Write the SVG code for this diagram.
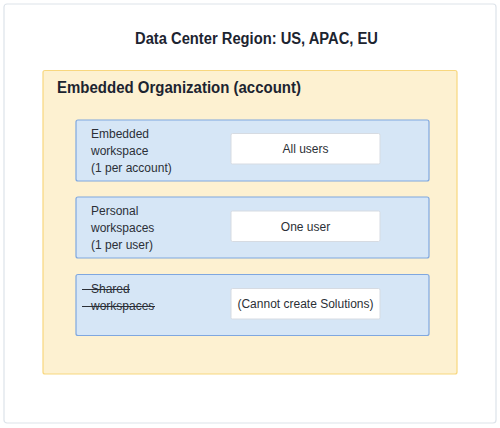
<svg xmlns="http://www.w3.org/2000/svg" width="500" height="428" viewBox="0 0 500 428">
<style>
.title{font-family:"Liberation Sans",Arial,sans-serif;font-weight:bold;font-size:16px;fill:#1c2430}
.lbl{font-family:"Liberation Sans",Arial,sans-serif;font-size:12px;fill:#2b2f36}
.ctr{text-anchor:middle}
.blue{fill:#d6e6f6;stroke:#7fa7df;stroke-width:1.2}
.white{fill:#ffffff;stroke:#d6dbe2;stroke-width:1}
.strike{stroke:#2b2f36;stroke-width:1}
</style>
<g id="frame">
<rect x="4" y="4" width="492" height="419" rx="3" fill="#ffffff" stroke="#dde3ea" stroke-width="1.2"/>
<text class="title" x="135" y="44" textLength="243" lengthAdjust="spacingAndGlyphs">Data Center Region: US, APAC, EU</text>
</g>
<g id="organization">
<rect x="43" y="70.5" width="414" height="303.5" rx="2" fill="#fdf1d1" stroke="#f8d77e" stroke-width="1.2"/>
<text class="title" x="57" y="93" textLength="244" lengthAdjust="spacingAndGlyphs">Embedded Organization (account)</text>
</g>
<g id="embedded-workspace">
<rect class="blue" x="76" y="120" width="353" height="61" rx="2"/>
<text class="lbl" x="91" y="138">Embedded</text>
<text class="lbl" x="91" y="155">workspace</text>
<text class="lbl" x="91" y="172">(1 per account)</text>
<rect class="white" x="231" y="133.5" width="149" height="30.5" rx="1.5"/>
<text class="lbl ctr" x="305.5" y="153">All users</text>
</g>
<g id="personal-workspaces">
<rect class="blue" x="76" y="197" width="353" height="61" rx="2"/>
<text class="lbl" x="91" y="215">Personal</text>
<text class="lbl" x="91" y="232">workspaces</text>
<text class="lbl" x="91" y="249">(1 per user)</text>
<rect class="white" x="231" y="211" width="149" height="30.5" rx="1.5"/>
<text class="lbl ctr" x="305.5" y="230.5">One user</text>
</g>
<g id="shared-workspaces">
<rect class="blue" x="76" y="274.5" width="353" height="61" rx="2"/>
<text class="lbl" x="91" y="293">Shared</text>
<text class="lbl" x="91" y="310">workspaces</text>
<line class="strike" x1="82" y1="289.5" x2="130" y2="289.5"/>
<line class="strike" x1="82" y1="306.5" x2="155" y2="306.5"/>
<rect class="white" x="231" y="288.5" width="149" height="30.5" rx="1.5"/>
<text class="lbl ctr" x="305.5" y="308">(Cannot create Solutions)</text>
</g>
<g id="connectors"/>
</svg>
